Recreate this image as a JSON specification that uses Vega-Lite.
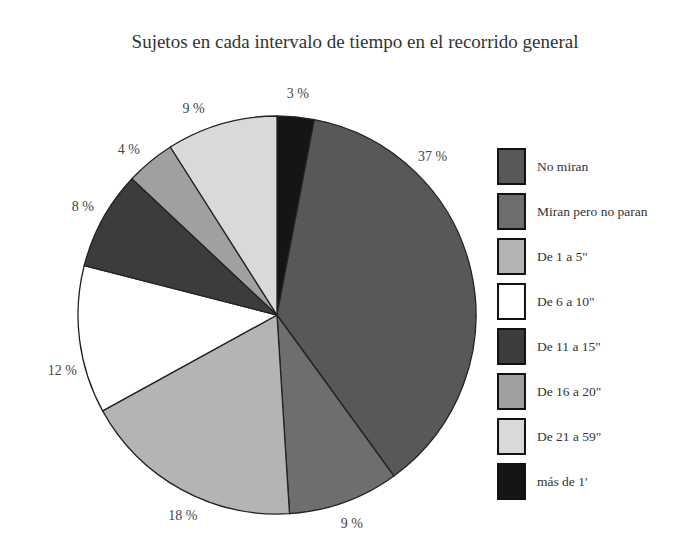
{
  "$schema": "https://vega.github.io/schema/vega-lite/v6.json",
  "width": 554,
  "height": 466,
  "autosize": {"type": "none"},
  "padding": {"left": 0, "top": 82, "right": 128, "bottom": 0},
  "background": "white",
  "config": {"view": {"stroke": null}},
  "title": {
    "text": "Sujetos en cada intervalo de tiempo en el recorrido general",
    "font": "Liberation Serif",
    "fontSize": 19,
    "fontWeight": "normal",
    "color": "#333",
    "anchor": "middle",
    "dx": 78,
    "offset": 15,
    "baseline": "alphabetic"
  },
  "data": {
    "values": [
      {"cat": "más de 1'", "pct": 3, "ord": 1, "label": "3 %", "la": 5.4},
      {"cat": "No miran", "pct": 37, "ord": 2, "label": "37 %", "la": 44.5},
      {"cat": "Miran pero no paran", "pct": 9, "ord": 3, "label": "9 %", "la": 160.3},
      {"cat": "De 1 a 5\"", "pct": 18, "ord": 4, "label": "18 %", "la": 205.1},
      {"cat": "De 6 a 10\"", "pct": 12, "ord": 5, "label": "12 %", "la": 255.3},
      {"cat": "De 11 a 15\"", "pct": 8, "ord": 6, "label": "8 %", "la": 299},
      {"cat": "De 16 a 20\"", "pct": 4, "ord": 7, "label": "4 %", "la": 318.1},
      {"cat": "De 21 a 59\"", "pct": 9, "ord": 8, "label": "9 %", "la": 337.9}
    ]
  },
  "layer": [
    {
      "mark": {"type": "arc", "outerRadius": 199, "stroke": "#222", "strokeWidth": 1.3},
      "encoding": {
        "theta": {"field": "pct", "type": "quantitative", "stack": true},
        "order": {"field": "ord", "type": "quantitative"},
        "color": {
          "field": "cat",
          "type": "nominal",
          "scale": {
            "domain": ["No miran", "Miran pero no paran", "De 1 a 5\"", "De 6 a 10\"", "De 11 a 15\"", "De 16 a 20\"", "De 21 a 59\"", "más de 1'"],
            "range": ["#585858", "#6e6e6e", "#b4b4b4", "#ffffff", "#3c3c3c", "#a0a0a0", "#d9d9d9", "#151515"]
          },
          "legend": {
            "orient": "none",
            "legendX": 493,
            "legendY": 66,
            "title": null,
            "symbolType": "M-0.77,-1L0.77,-1L0.77,1L-0.77,1Z",
            "symbolSize": 1225,
            "symbolStrokeColor": "#111",
            "symbolStrokeWidth": 2,
            "symbolOpacity": 1,
            "rowPadding": 2,
            "labelOffset": 7,
            "labelFont": "Liberation Serif",
            "labelFontSize": 13.5,
            "labelColor": "#333",
            "labelLimit": 200
          }
        }
      }
    },
    {
      "mark": {"type": "text", "radius": 222, "font": "Liberation Serif", "fontSize": 14, "color": "#444"},
      "encoding": {
        "theta": {"field": "la", "type": "quantitative", "stack": null, "scale": {"domain": [0, 360]}},
        "text": {"field": "label", "type": "nominal"}
      }
    }
  ],
  "resolve": {"scale": {"theta": "independent"}}
}
